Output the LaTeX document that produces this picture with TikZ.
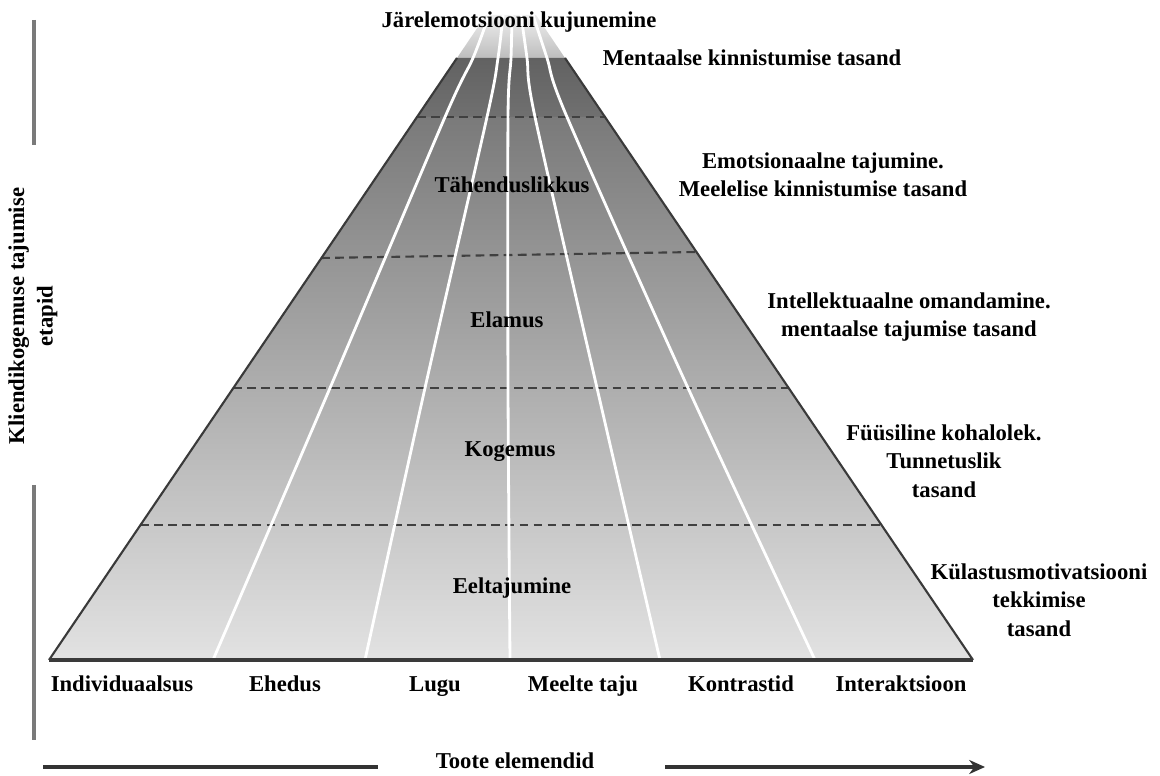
\documentclass[tikz,border=0pt]{standalone}
\usepackage{fontspec}
\setmainfont{Liberation Serif}
\usetikzlibrary{arrows.meta}

\definecolor{edgegray}{HTML}{3A3A3A}
\definecolor{dashgray}{HTML}{404040}
\definecolor{axisgray}{HTML}{7A7A7A}
\definecolor{arrowgray}{HTML}{333333}
\definecolor{bandtop}{HTML}{626262}
\definecolor{bandbot}{HTML}{707070}
\definecolor{bodytop}{HTML}{7A7A7A}
\definecolor{bodymid}{HTML}{B4B4B4}
\definecolor{bodybot}{HTML}{E2E2E2}
\definecolor{captop}{HTML}{EEEEEE}
\definecolor{capbot}{HTML}{BEBEBE}

\newcommand\lblfont{\fontsize{12.9}{16.2}\selectfont\bfseries}

\tikzset{
  lbl/.style={font=\lblfont, align=center, inner sep=0pt, text=black},
  baselbl/.style={lbl, anchor=base},
  levelline/.style={draw=dashgray, line width=1.2pt, dash pattern=on 5pt off 3pt},
  fanline/.style={draw=white, line width=1.6pt},
  sideedge/.style={draw=edgegray, line width=1.2pt, line join=round},
  axisline/.style={draw=axisgray, line width=2.2pt},
  axisarrow/.style={draw=arrowgray, line width=2pt}
}

\begin{document}
\begin{tikzpicture}[x=0.02cm, y=-0.02cm]
\useasboundingbox (0,0) rectangle (1160,776);

% pyramid outline points
\coordinate (capTL) at (486,15);
\coordinate (capTR) at (536,15);
\coordinate (bandTL) at (457,58);
\coordinate (bandTR) at (565,58);
\coordinate (bodyTL) at (417,117);
\coordinate (bodyTR) at (605,117);
\coordinate (baseL) at (49,660);
\coordinate (baseR) at (973,660);

% light cap at the very top
\shade[top color=captop, bottom color=capbot]
  (capTL) -- (capTR) -- (bandTR) -- (bandTL) -- cycle;
% dark upper band
\shade[top color=bandtop, bottom color=bandbot]
  (bandTL) -- (bandTR) -- (bodyTR) -- (bodyTL) -- cycle;
% main body, darker above and lighter below
\shade[top color=bodytop, middle color=bodymid, bottom color=bodybot]
  (bodyTL) -- (bodyTR) -- (baseR) -- (baseL) -- cycle;

% level boundaries
\draw[levelline] (bodyTL) -- (bodyTR);
\draw[levelline] (321,258) -- (697,252);
\draw[levelline] (233,388) -- (789,388);
\draw[levelline] (140,525) -- (882,525);

% white fan lines separating the product elements
\draw[fanline] plot[smooth] coordinates {(213,660) (330,388) (445,117) (473,58) (489,15)};
\draw[fanline] plot[smooth] coordinates {(365,660) (425,388) (487,117) (498,58) (503,15)};
\draw[fanline] plot[smooth] coordinates {(510,660) (508,388) (508,117) (511,58) (512,15)};
\draw[fanline] plot[smooth] coordinates {(660,660) (597,388) (535,117) (527,58) (521,15)};
\draw[fanline] plot[smooth] coordinates {(815,660) (688,388) (567,117) (547,58) (533,15)};

% outline
\draw[sideedge] (bandTL) -- (baseL);
\draw[sideedge] (bandTR) -- (baseR);
\draw[draw=edgegray, line width=2pt] (baseL) -- (baseR);

% stage names inside the pyramid
\node[lbl] (s1) at (512,185) {Tähenduslikkus};
\node[lbl] (s2) at (507,320) {Elamus};
\node[lbl] (s3) at (510,452) {Kogemus};
\node[lbl] (s4) at (512,588) {Eeltajumine};

% top and level descriptions
\node[lbl] (top) at (519,22) {Järelemotsiooni kujunemine};
\node[lbl] (l1) at (752,58) {Mentaalse kinnistumise tasand};
\node[lbl] (l2) at (823,175) {Emotsionaalne tajumine.\\Meelelise kinnistumise tasand};
\node[lbl] (l3) at (909,317) {Intellektuaalne omandamine.\\mentaalse tajumise tasand};
\node[lbl] (l4) at (944,461) {Füüsiline kohalolek.\\Tunnetuslik\\tasand};
\node[lbl] (l5) at (1039,600) {Külastusmotivatsiooni\\tekkimise\\tasand};

% product elements along the base
\node[baselbl] (e1) at (122,691) {Individuaalsus};
\node[baselbl] (e2) at (285,691) {Ehedus};
\node[baselbl] (e3) at (435,691) {Lugu};
\node[baselbl] (e4) at (583,691) {Meelte taju};
\node[baselbl] (e5) at (741,691) {Kontrastid};
\node[baselbl] (e6) at (901,691) {Interaktsioon};

% vertical axis
\coordinate (v1) at (34,20);
\coordinate (v2) at (34,145);
\coordinate (v3) at (34,485);
\coordinate (v4) at (34,740);
\draw[axisline] (v1) -- (v2);
\draw[axisline] (v3) -- (v4);
\node[lbl, rotate=90] (vlab) at (33,316) {Kliendikogemuse tajumise\\etapid};

% horizontal axis
\coordinate (h1) at (43,767);
\coordinate (h2) at (378,767);
\coordinate (h3) at (665,767);
\coordinate (h4) at (985,767);
\node[baselbl] (hlab) at (515,768) {Toote elemendid};
\draw[axisarrow] (h1) -- (h2);
\draw[axisarrow, -{Stealth[length=9pt, width=8pt]}] (h3) -- (h4);
\end{tikzpicture}
\end{document}
